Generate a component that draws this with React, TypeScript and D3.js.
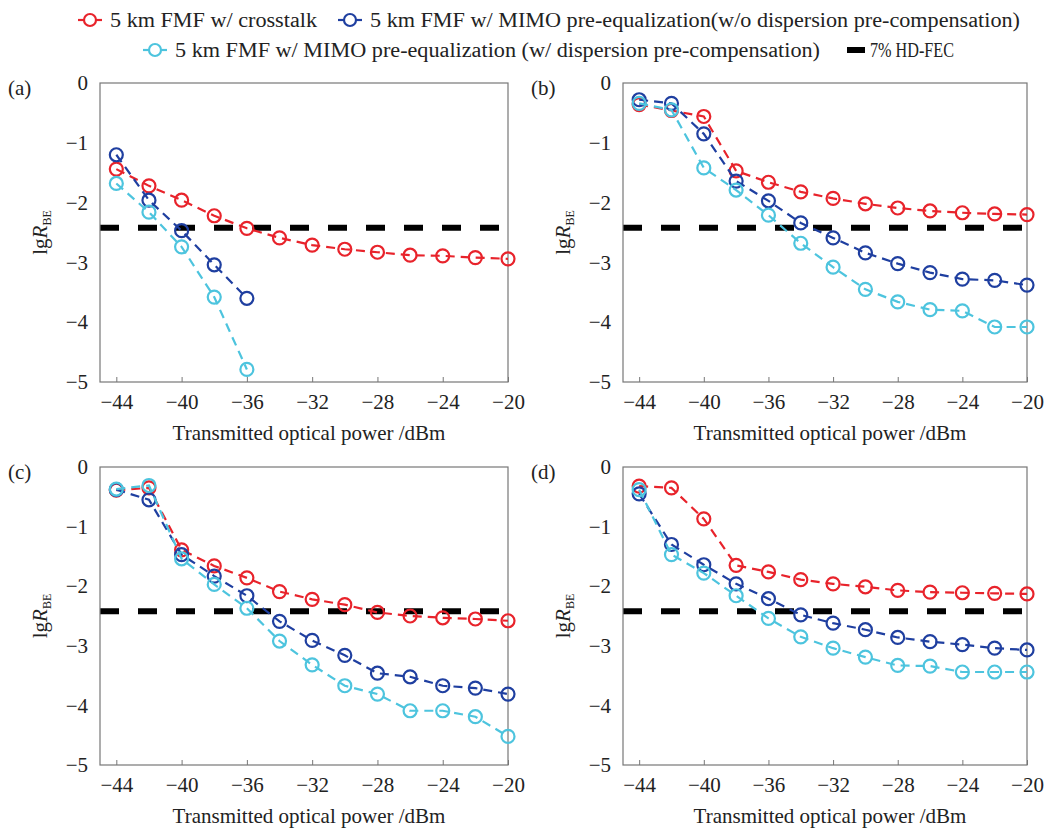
import React, { useEffect, useRef } from 'react';
import * as d3 from 'd3';

// transmitted optical power (dBm)
const power = [-44, -42, -40, -38, -36, -34, -32, -30, -28, -26, -24, -22, -20];
const xTicks = [-44, -40, -36, -32, -28, -24, -20];
const yTicks = [0, -1, -2, -3, -4, -5];
const hdFec = -2.42;

const seriesNames = [
  '5 km FMF w/ crosstalk',
  '5 km FMF w/ MIMO pre-equalization(w/o dispersion pre-compensation)',
  '5 km FMF w/ MIMO pre-equalization (w/ dispersion pre-compensation)',
];
const fecName = '7% HD-FEC';
const colors = ['#e8232b', '#1f3fa0', '#4dc4de'];

// panel (a)
const aCrosstalk = [-1.44, -1.72, -1.96, -2.22, -2.43, -2.59, -2.71, -2.78, -2.83, -2.88, -2.89, -2.92, -2.94];
const aMimoNoPre = [-1.2, -1.96, -2.47, -3.04, -3.6];
const aMimoPre = [-1.68, -2.16, -2.74, -3.58, -4.79];
// panel (b)
const bCrosstalk = [-0.36, -0.46, -0.56, -1.47, -1.66, -1.82, -1.93, -2.02, -2.09, -2.14, -2.17, -2.19, -2.2];
const bMimoNoPre = [-0.28, -0.34, -0.85, -1.64, -1.97, -2.34, -2.59, -2.84, -3.02, -3.17, -3.28, -3.3, -3.38];
const bMimoPre = [-0.34, -0.45, -1.42, -1.79, -2.21, -2.68, -3.08, -3.45, -3.66, -3.79, -3.81, -4.08, -4.08];
// panel (c)
const cCrosstalk = [-0.39, -0.35, -1.39, -1.66, -1.86, -2.09, -2.22, -2.31, -2.44, -2.5, -2.53, -2.55, -2.58];
const cMimoNoPre = [-0.38, -0.55, -1.47, -1.83, -2.16, -2.59, -2.91, -3.16, -3.46, -3.52, -3.67, -3.71, -3.81];
const cMimoPre = [-0.37, -0.31, -1.54, -1.97, -2.37, -2.92, -3.32, -3.67, -3.81, -4.09, -4.09, -4.19, -4.52];
// panel (d)
const dCrosstalk = [-0.32, -0.35, -0.87, -1.65, -1.76, -1.89, -1.96, -2.01, -2.07, -2.1, -2.11, -2.12, -2.13];
const dMimoNoPre = [-0.45, -1.3, -1.64, -1.96, -2.21, -2.48, -2.62, -2.73, -2.86, -2.93, -2.98, -3.04, -3.07];
const dMimoPre = [-0.38, -1.47, -1.78, -2.16, -2.54, -2.85, -3.04, -3.19, -3.33, -3.34, -3.44, -3.44, -3.44];

const panels = [
  { label: '(a)', left: 100, top: 83, right: 508, bottom: 382, series: [aCrosstalk, aMimoNoPre, aMimoPre] },
  { label: '(b)', left: 623, top: 83, right: 1027, bottom: 382, series: [bCrosstalk, bMimoNoPre, bMimoPre] },
  { label: '(c)', left: 100, top: 467, right: 508, bottom: 765, series: [cCrosstalk, cMimoNoPre, cMimoPre] },
  { label: '(d)', left: 623, top: 467, right: 1027, bottom: 765, series: [dCrosstalk, dMimoNoPre, dMimoPre] },
];

const FONT = 'Liberation Serif';

export default function App() {
  const ref = useRef<SVGSVGElement>(null);

  useEffect(() => {
    const svg = d3.select(ref.current);
    svg.selectAll('*').remove();
    svg.style('font-family', FONT);

    panels.forEach((p) => {
      const g = svg.append('g');
      const x = d3.scaleLinear().domain([-45, -20]).range([p.left, p.right]);
      const y = d3.scaleLinear().domain([-5, 0]).range([p.bottom, p.top]);

      // HD-FEC threshold
      g.append('line')
        .attr('x1', p.left).attr('x2', p.right)
        .attr('y1', y(hdFec)).attr('y2', y(hdFec))
        .attr('stroke', '#000').attr('stroke-width', 6)
        .attr('stroke-dasharray', '19 19');

      // axes
      g.append('g')
        .attr('transform', `translate(0,${p.bottom})`)
        .call(d3.axisBottom(x).tickValues(xTicks).tickSizeInner(-5).tickSizeOuter(0).tickPadding(12).tickFormat(d3.format('d')))
        .call((a) => a.attr('font-family', null))
        .call((a) => a.select('.domain').remove())
        .call((a) => a.selectAll('line').attr('stroke', '#777'))
        .call((a) => a.selectAll('text').attr('font-size', 21).attr('fill', '#222'));

      g.append('g')
        .attr('transform', `translate(${p.left},0)`)
        .call(d3.axisLeft(y).tickValues(yTicks).tickSizeInner(0).tickSizeOuter(0).tickPadding(12).tickFormat(d3.format('d')))
        .call((a) => a.attr('font-family', null))
        .call((a) => a.select('.domain').remove())
        .call((a) => a.selectAll('text').attr('font-size', 21).attr('fill', '#222'));

      g.append('rect')
        .attr('x', p.left).attr('y', p.top)
        .attr('width', p.right - p.left).attr('height', p.bottom - p.top)
        .attr('fill', 'none').attr('stroke', '#777').attr('stroke-width', 1.2);

      // series
      p.series.forEach((vals, i) => {
        const pts = vals.map((v, k) => [power[k], v] as [number, number]);
        const line = d3.line<[number, number]>().x((d) => x(d[0])).y((d) => y(d[1]));
        g.append('path')
          .attr('d', line(pts))
          .attr('fill', 'none')
          .attr('stroke', colors[i])
          .attr('stroke-width', 2.2)
          .attr('stroke-dasharray', '9 6');
        g.selectAll(null).data(pts).join('circle')
          .attr('cx', (d) => x(d[0]))
          .attr('cy', (d) => y(d[1]))
          .attr('r', 6.5)
          .attr('fill', 'none')
          .attr('stroke', colors[i])
          .attr('stroke-width', 2.2);
      });

      // labels
      g.append('text')
        .attr('x', p.left - 92).attr('y', p.top + 12)
        .attr('font-size', 21).attr('fill', '#222')
        .text(p.label);

      g.append('text')
        .attr('x', (p.left + p.right) / 2 + 5).attr('y', p.bottom + 58)
        .attr('text-anchor', 'middle')
        .attr('font-size', 21).attr('fill', '#222')
        .text('Transmitted optical power /dBm');

      const yl = g.append('text')
        .attr('transform', `translate(${p.left - 53},${(p.top + p.bottom) / 2}) rotate(-90)`)
        .attr('text-anchor', 'middle')
        .attr('font-size', 21).attr('fill', '#222');
      yl.append('tspan').text('lg');
      yl.append('tspan').attr('font-style', 'italic').text('R');
      yl.append('tspan').attr('font-size', 12).attr('dy', 4).text('BE');
    });

    // legend
    const legend = svg.append('g');
    const items = [
      { cx: 90, cy: 20, tx: 110, w: 207, i: 0 },
      { cx: 350, cy: 20, tx: 370, w: 650, i: 1 },
      { cx: 155, cy: 50, tx: 175, w: 645, i: 2 },
    ];
    items.forEach((it) => {
      legend.append('line')
        .attr('x1', it.cx - 12).attr('x2', it.cx + 12)
        .attr('y1', it.cy).attr('y2', it.cy)
        .attr('stroke', colors[it.i]).attr('stroke-width', 2.2);
      legend.append('circle')
        .attr('cx', it.cx).attr('cy', it.cy).attr('r', 6)
        .attr('fill', '#fff').attr('stroke', colors[it.i]).attr('stroke-width', 2.2);
      legend.append('text')
        .attr('x', it.tx).attr('y', it.cy + 7)
        .attr('font-size', 20).attr('fill', '#222')
        .attr('textLength', it.w).attr('lengthAdjust', 'spacingAndGlyphs')
        .text(seriesNames[it.i]);
    });
    legend.append('line')
      .attr('x1', 847).attr('x2', 865)
      .attr('y1', 50).attr('y2', 50)
      .attr('stroke', '#000').attr('stroke-width', 6);
    legend.append('text')
      .attr('x', 870).attr('y', 57)
      .attr('font-size', 20).attr('fill', '#222')
      .attr('textLength', 84).attr('lengthAdjust', 'spacingAndGlyphs')
      .text(fecName);
  }, []);

  return <svg ref={ref} width={1049} height={831} style={{ position: 'absolute', left: 0, top: 0 }} />;
}
